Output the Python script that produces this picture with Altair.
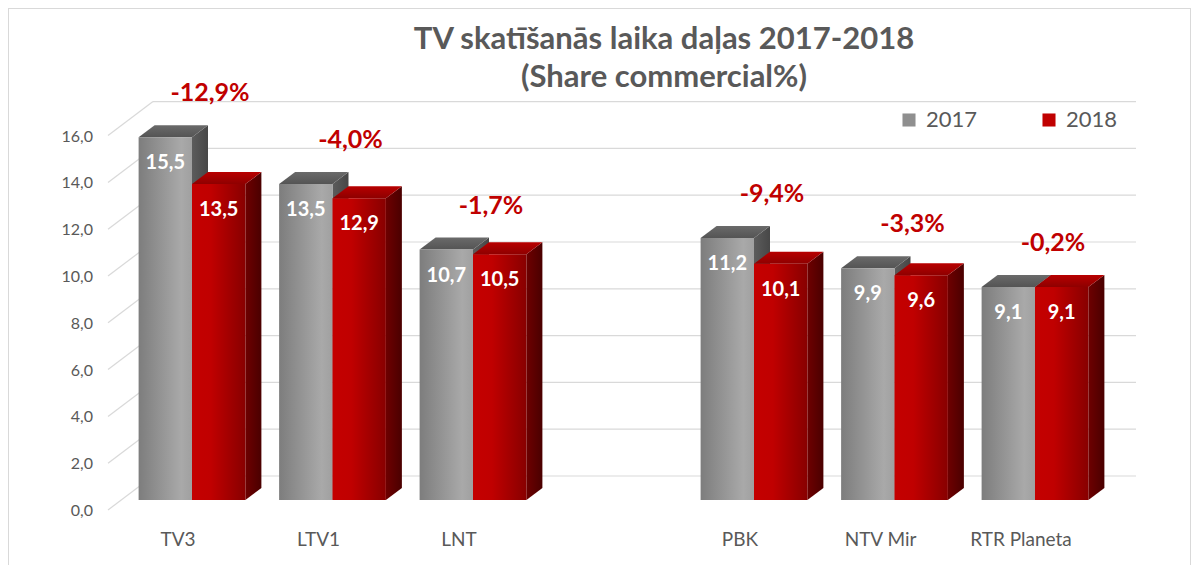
import altair as alt
import pandas as pd

# ---------------- data ----------------
channels = ["TV3", "LTV1", "LNT", "PBK", "NTV Mir", "RTR Planeta"]
share_2017 = [15.5, 13.5, 10.7, 11.2, 9.9, 9.1]
share_2018 = [13.5, 12.9, 10.5, 10.1, 9.6, 9.1]
change_labels = ["-12,9%", "-4,0%", "-1,7%", "-9,4%", "-3,3%", "-0,2%"]
years = ["2017", "2018"]
y_ticks = [0, 2, 4, 6, 8, 10, 12, 14, 16]
y_tick_labels = ["0,0", "2,0", "4,0", "6,0", "8,0", "10,0", "12,0", "14,0", "16,0"]
title_lines = ["TV skatīšanās laika daļas 2017-2018", "(Share commercial%)"]

# ---------------- layout / style ----------------
FONT = "Lato"
TXT = "#595959"
W, H = 1183, 557
GAP_AFTER = 3            # one empty slot after the third channel
X_RANGE = [184, 1027]    # pixel range of slot 0 .. slot 6
Y_RANGE = [492, 117.6]   # pixel range of value 0 .. 16 (front plane)
PX_PER_SLOT = (X_RANGE[1] - X_RANGE[0]) / 6
PX_PER_UNIT = (Y_RANGE[0] - Y_RANGE[1]) / 16
BAR_W = 0.38
DX = 16 / PX_PER_SLOT    # 3D depth, horizontal (slots)
DY = 12 / PX_PER_UNIT    # 3D depth, vertical (value units)

xs = alt.Scale(domain=[0, 6], range=X_RANGE, nice=False, zero=False)
ys = alt.Scale(domain=[0, 16], range=Y_RANGE, nice=False, zero=False)

slots = [i + (1 if i >= GAP_AFTER else 0) for i in range(len(channels))]

bars = []
for i, ch in enumerate(channels):
    for yr, vals in zip(years, [share_2017, share_2018]):
        left = slots[i] - BAR_W if yr == "2017" else slots[i]
        bars.append(dict(channel=ch, year=yr, value=vals[i], left=left, right=left + BAR_W,
                         mid=left + BAR_W / 2, base=0.0, label=f"{vals[i]:.1f}".replace(".", ",")))
bars_df = pd.DataFrame(bars)

side_rows, top_rows = [], []
for b in bars:
    bid = b["channel"] + b["year"]
    side_rows.append(dict(id=bid, year=b["year"], x=b["right"], top=b["value"], bot=0.0))
    side_rows.append(dict(id=bid, year=b["year"], x=b["right"] + DX, top=b["value"] + DY, bot=DY))
    top_rows.append(dict(id=bid, year=b["year"], y=b["value"], xl=b["left"], xr=b["right"]))
    top_rows.append(dict(id=bid, year=b["year"], y=b["value"] + DY, xl=b["left"] + DX, xr=b["right"] + DX))
side_df = pd.DataFrame(side_rows)
top_df = pd.DataFrame(top_rows)

groups_df = pd.DataFrame(dict(channel=channels, slot=slots, change=change_labels,
                              peak=[max(a, b) for a, b in zip(share_2017, share_2018)], base=0.0))
ticks_df = pd.DataFrame(dict(v=y_ticks, lab=y_tick_labels))


def grad(stops, horizontal=True):
    return alt.Gradient(
        gradient="linear",
        stops=[alt.GradientStop(color=c, offset=o) for o, c in stops],
        x1=0, x2=1 if horizontal else 0, y1=0, y2=0 if horizontal else 1,
    )


front_fill = {
    "2017": grad([(0, "#7d7d7d"), (0.8, "#a9a9a9"), (1, "#a0a0a0")]),
    "2018": grad([(0, "#c40000"), (0.35, "#c00000"), (1, "#880000")]),
}
side_fill = {
    "2017": grad([(0, "#5c5c5c"), (1, "#474747")]),
    "2018": grad([(0, "#6e0000"), (1, "#4a0000")]),
}
top_fill = {
    "2017": grad([(0, "#6a6a6a"), (1, "#545454")], horizontal=False),
    "2018": grad([(0, "#b80000"), (1, "#8e0000")], horizontal=False),
}

layers = []

# back-wall gridlines and side-wall diagonals
layers.append(
    alt.Chart(ticks_df).mark_rule(color="#d9d9d9", strokeWidth=1.2, yOffset=-24).encode(
        x=alt.value(145), x2=alt.value(1128), y=alt.Y("v:Q", scale=ys, axis=None))
)
layers.append(
    alt.Chart(ticks_df).mark_rule(color="#d9d9d9", strokeWidth=1.2, yOffset=10, y2Offset=-24).encode(
        x=alt.value(100), x2=alt.value(145), y=alt.Y("v:Q", scale=ys, axis=None), y2="v:Q")
)

for yr in years:
    layers.append(
        alt.Chart(side_df[side_df.year == yr]).mark_area(orient="vertical", fill=side_fill[yr]).encode(
            x=alt.X("x:Q", scale=xs, axis=None),
            y=alt.Y("top:Q", scale=ys, axis=None, stack=None), y2="bot:Q", detail="id:N")
    )
    layers.append(
        alt.Chart(top_df[top_df.year == yr]).mark_area(orient="horizontal", fill=top_fill[yr]).encode(
            y=alt.Y("y:Q", scale=ys, axis=None),
            x=alt.X("xl:Q", scale=xs, axis=None, stack=None), x2="xr:Q", detail="id:N")
    )
    layers.append(
        alt.Chart(bars_df[bars_df.year == yr]).mark_rect(fill=front_fill[yr]).encode(
            x=alt.X("left:Q", scale=xs, axis=None), x2="right:Q",
            y=alt.Y("value:Q", scale=ys, axis=None), y2="base:Q")
    )

# value labels
layers.append(
    alt.Chart(bars_df).mark_text(font=FONT, fontSize=20, fontWeight="bold", color="white",
                                 baseline="middle", dy=26).encode(
        x=alt.X("mid:Q", scale=xs, axis=None), y=alt.Y("value:Q", scale=ys, axis=None), text="label:N")
)
# change labels
layers.append(
    alt.Chart(groups_df).mark_text(font=FONT, fontSize=25, fontWeight="bold", color="#c00000",
                                   baseline="middle", dx=18, dy=-44).encode(
        x=alt.X("slot:Q", scale=xs, axis=None), y=alt.Y("peak:Q", scale=ys, axis=None), text="change:N")
)
# category labels
layers.append(
    alt.Chart(groups_df).mark_text(font=FONT, fontSize=19, color=TXT, baseline="middle", dx=-14, dy=40).encode(
        x=alt.X("slot:Q", scale=xs, axis=None), y=alt.Y("base:Q", scale=ys, axis=None), text="channel:N")
)
# y tick labels
layers.append(
    alt.Chart(ticks_df).mark_text(font=FONT, fontSize=16, color=TXT, align="right", baseline="middle", dy=11).encode(
        x=alt.value(85), y=alt.Y("v:Q", scale=ys, axis=None), text="lab:N")
)
# title (two lines, one text mark)
title_df = pd.DataFrame(dict(line=["\n".join(title_lines)]))
layers.append(
    alt.Chart(title_df).mark_text(font=FONT, fontSize=31, fontWeight="bold", color=TXT, baseline="middle",
                                  lineBreak="\n", lineHeight=38).encode(
        x=alt.value(656), y=alt.value(32), text="line:N")
)
# legend (carried by an invisible layer)
legend_df = pd.DataFrame(dict(year=years))
layers.append(
    alt.Chart(legend_df).mark_square(opacity=0).encode(
        x=alt.value(0), y=alt.value(0),
        color=alt.Color("year:N", scale=alt.Scale(domain=years, range=["#8f8f8f", "#c00000"]),
                        legend=alt.Legend(orient="none", legendX=890, legendY=101, direction="horizontal",
                                          title=None, symbolType="square", symbolSize=170, symbolOpacity=1,
                                          symbolStrokeWidth=0, labelFont=FONT, labelFontSize=22,
                                          labelColor=TXT, labelOffset=6, columnPadding=60, padding=0)))
)
# chart frame (top, left, right)
frame_df = pd.DataFrame(dict(k=[0]))
layers.append(alt.Chart(frame_df).mark_rule(color="#d9d9d9").encode(
    x=alt.value(0), x2=alt.value(W), y=alt.value(0.5)))
layers.append(alt.Chart(frame_df).mark_rule(color="#d9d9d9").encode(
    x=alt.value(0.5), y=alt.value(0), y2=alt.value(H)))
layers.append(alt.Chart(frame_df).mark_rule(color="#d9d9d9").encode(
    x=alt.value(W - 0.5), y=alt.value(0), y2=alt.value(H)))

chart = alt.layer(*layers).properties(
    width=W, height=H, autosize=alt.AutoSizeParams(type="none"), padding=0, background="white"
).configure_view(stroke=None)

chart.save("out.html", embed_options={"renderer": "svg", "actions": False})
